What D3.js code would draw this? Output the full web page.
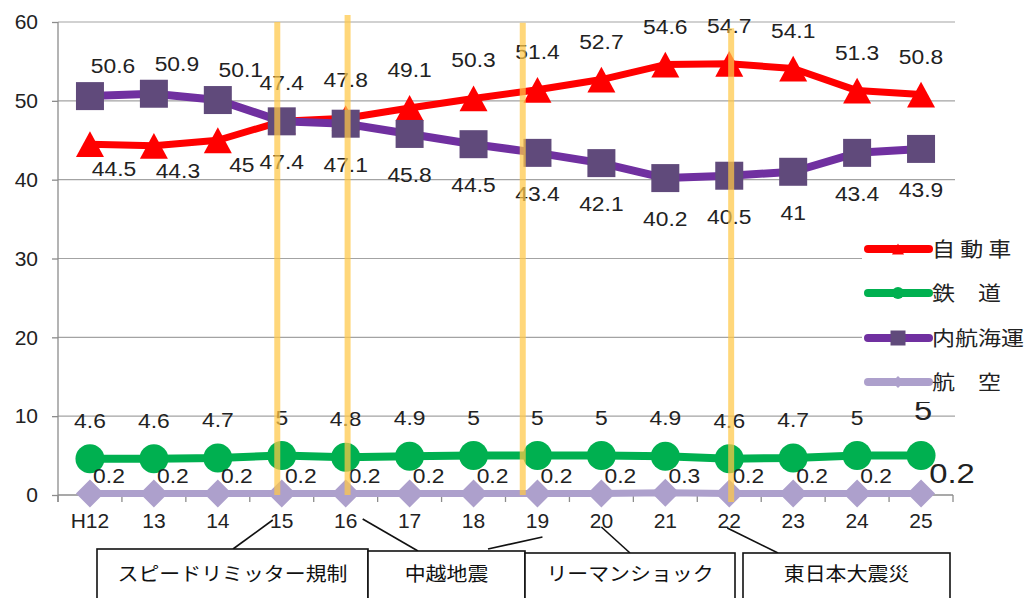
<!DOCTYPE html>
<html>
<head>
<meta charset="utf-8">
<script src="https://cdn.jsdelivr.net/npm/d3@7"></script>
<style>
  html, body { margin: 0; padding: 0; background: #fff; }
  svg { display: block; font-family: "Liberation Sans", Arial, "Noto Sans CJK JP", sans-serif; }
</style>
</head>
<body>
<svg id="chart" width="1027" height="598"></svg>
<script>
// ---- data: modal share of domestic freight (%), fiscal years H12–H25 ----
const categories = ["H12","13","14","15","16","17","18","19","20","21","22","23","24","25"];
const carShare      = [44.5,44.3,45,47.4,47.8,49.1,50.3,51.4,52.7,54.6,54.7,54.1,51.3,50.8];
const railShare     = [4.6,4.6,4.7,5,4.8,4.9,5,5,5,4.9,4.6,4.7,5,5];
const shippingShare = [50.6,50.9,50.1,47.4,47.1,45.8,44.5,43.4,42.1,40.2,40.5,41,43.4,43.9];
const airShare      = [0.2,0.2,0.2,0.2,0.2,0.2,0.2,0.2,0.2,0.3,0.2,0.2,0.2,0.2];
const seriesNames   = ["自 動 車","鉄　道","内航海運","航　空"];
const yTicks        = [0,10,20,30,40,50,60];

// events marked on the chart
const eventNames     = ["スピードリミッター規制","中越地震","リーマンショック","東日本大震災"];
const eventLinePos   = [2.93, 4.03, 6.77, 10.03];   // category-index units
const eventLineTop   = [60, 60.9, 59.9, 59.2];      // value units
const eventLineBottom= [0, 0, 0, -0.9];

// ---- layout ----
const svg = d3.select("#chart");
const plotL = 58, plotR = 953;
const x = d3.scaleBand().domain(categories).range([plotL, plotR]).padding(0);
const bw = x.bandwidth();
const cx = c => x(c) + bw / 2;
const xi = i => plotL + (i + 0.5) * bw;
const y = d3.scaleLinear().domain([0, 60]).range([495, 22]);

// gridlines
svg.append("g").selectAll("line").data(yTicks.filter(t => t > 0)).join("line")
  .attr("x1", plotL).attr("x2", plotR + 2)
  .attr("y1", d => y(d)).attr("y2", d => y(d))
  .attr("stroke", "#a3a3a3").attr("stroke-width", 1.2);

// y axis
const yAxis = svg.append("g").attr("transform", `translate(${plotL},0)`)
  .call(d3.axisLeft(y).tickValues(yTicks).tickSize(6).tickPadding(14).tickSizeOuter(0));
yAxis.select(".domain").attr("stroke", "#8c8c8c").attr("stroke-width", 1.3)
  .attr("d", `M0,${y(60)}V${y(0) + 7}`);
yAxis.selectAll(".tick line").attr("stroke", "#8c8c8c").attr("stroke-width", 1.3);
yAxis.selectAll("text").attr("font-size", 21).attr("fill", "#222")
  .attr("font-family", "Liberation Sans, Arial, sans-serif");

// x axis: labels at band centres, ticks at band boundaries
const xAxis = svg.append("g").attr("transform", `translate(0,${y(0)})`)
  .call(d3.axisBottom(x).tickSize(0).tickPadding(18));
xAxis.select(".domain").attr("stroke", "#8c8c8c").attr("stroke-width", 1.3)
  .attr("d", `M${plotL},0H${plotR}`);
xAxis.selectAll("text").attr("font-size", 21).attr("fill", "#222")
  .attr("font-family", "Liberation Sans, Arial, sans-serif");
svg.append("g").selectAll("line").data(d3.range(categories.length + 1)).join("line")
  .attr("x1", i => plotL + i * bw).attr("x2", i => plotL + i * bw)
  .attr("y1", y(0)).attr("y2", y(0) + 7)
  .attr("stroke", "#8c8c8c").attr("stroke-width", 1.3);

// ---- series ----
const markerPath = {
  triangle: s => `M0,${-s*0.46}L${s/2},${s*0.46}L${-s/2},${s*0.46}Z`,
  circle:   s => d3.path ? `M${s/2},0A${s/2},${s/2} 0 1,1 ${-s/2},0A${s/2},${s/2} 0 1,1 ${s/2},0Z` : "",
  square:   s => `M${-s/2},${-s/2}h${s}v${s}h${-s}Z`,
  diamond:  s => `M0,${-s/2}L${s/2},0L0,${s/2}L${-s/2},0Z`
};

const series = [
  { name: seriesNames[0], values: carShare,      line: "#ff0000", marker: "#ff0000", shape: "triangle", width: 7, size: 28 },
  { name: seriesNames[1], values: railShare,     line: "#00b050", marker: "#00b050", shape: "circle",   width: 8, size: 29 },
  { name: seriesNames[2], values: shippingShare, line: "#7030a0", marker: "#604a7b", shape: "square",   width: 8, size: 28 },
  { name: seriesNames[3], values: airShare,      line: "#ada0cc", marker: "#ada0cc", shape: "diamond",  width: 7, size: 28 }
];

const lineGen = d3.line().x((d, i) => xi(i)).y(d => y(d));

series.forEach(s => {
  const g = svg.append("g");
  g.append("path").datum(s.values)
    .attr("d", lineGen).attr("fill", "none")
    .attr("stroke", s.line).attr("stroke-width", s.width)
    .attr("stroke-linejoin", "round").attr("stroke-linecap", "round");
  g.selectAll("path.m").data(s.values).join("path").attr("class", "m")
    .attr("transform", (d, i) => `translate(${xi(i)},${y(d)})`)
    .attr("d", markerPath[s.shape](s.size))
    .attr("fill", s.marker);
});

// ---- data labels ----
const last = categories.length - 1;
function placement(key, i) {
  if (key === "car") {
    if (i < 3) return { dx: 24, dy: 25 };
    if (i === 3) return { dx: 0, dy: 41 };
    return { dx: 0, dy: -38 };
  }
  if (key === "ship") {
    if (i < 3) return { dx: 23, dy: -30 };
    if (i === 3) return { dx: 0, dy: -38 };
    return { dx: 0, dy: 41 };
  }
  if (key === "rail") {
    if (i === last) return { dx: 2, dy: -46, big: true };
    return { dx: 0, dy: -38 };
  }
  if (i === last) return { dx: 31, dy: -21, big: true };
  return { dx: 19, dy: -17 };
}
const labelSets = [["car", carShare], ["ship", shippingShare], ["rail", railShare], ["air", airShare]];
const labels = svg.append("g");
labelSets.forEach(([key, vals]) => {
  vals.forEach((v, i) => {
    const p = placement(key, i);
    const fs = p.big ? 28 : 19.5;
    labels.append("text")
      .attr("transform", `translate(${xi(i) + p.dx},${y(v) + p.dy + 0.36 * fs}) scale(1.17,1)`)
      .attr("text-anchor", "middle")
      .attr("font-size", fs).attr("fill", "#222")
      .text(v);
  });
});

// ---- event marker lines ----
svg.append("g").selectAll("line").data(eventLinePos).join("line")
  .attr("x1", d => xi(d)).attr("x2", d => xi(d))
  .attr("y1", (d, i) => y(eventLineTop[i])).attr("y2", (d, i) => y(eventLineBottom[i]))
  .attr("stroke", "rgb(255,200,70)").attr("stroke-opacity", 0.72).attr("stroke-width", 6);

// ---- legend ----
const legend = svg.append("g");
legend.append("rect").attr("x", 862).attr("y", 234).attr("width", 165).attr("height", 168).attr("fill", "#fff");
const legendY = [249, 293, 338, 382];
const legendMarker = [12, 12, 15, 12];
series.forEach((s, k) => {
  const ly = legendY[k];
  legend.append("line").attr("x1", 868).attr("x2", 929).attr("y1", ly).attr("y2", ly)
    .attr("stroke", s.line).attr("stroke-width", 8).attr("stroke-linecap", "round");
  legend.append("path").attr("transform", `translate(898,${ly})`)
    .attr("d", markerPath[s.shape](legendMarker[k])).attr("fill", s.marker);
  legend.append("text")
    .attr("transform", `translate(932,${ly + 0.38 * 20}) scale(1.15,1)`)
    .attr("font-family", "Noto Sans CJK JP, sans-serif")
    .attr("font-size", 20).attr("fill", "#222")
    .text(s.name);
});

// ---- event annotation boxes ----
const boxes = [
  { x0: 97,  x1: 368, top: 549, target: { i: 3,  dx: -9, dy: 25 }, from: 233 },
  { x0: 368, x1: 525, top: 551, target: { i: 4,  dx: 17, dy: 24 }, from: 418 },
  { x0: 525, x1: 735, top: 553, target: { i: 8,  dx: 0,  dy: 32 }, from: 630 },
  { x0: 743, x1: 950, top: 553, target: { i: 10, dx: -2, dy: 33 }, from: 778 }
];
const ann = svg.append("g");
// leaders first so boxes sit on top of their ends
boxes.forEach(b => {
  ann.append("line").attr("x1", b.from).attr("y1", b.top)
    .attr("x2", xi(b.target.i) + b.target.dx).attr("y2", y(0) + b.target.dy)
    .attr("stroke", "#111").attr("stroke-width", 1.6);
});
// second leader from the 中越地震 box toward H19
ann.append("line").attr("x1", 488).attr("y1", 549)
  .attr("x2", xi(7) + 5).attr("y2", y(0) + 42)
  .attr("stroke", "#111").attr("stroke-width", 1.6);

boxes.forEach((b, k) => {
  ann.append("rect").attr("x", b.x0).attr("y", b.top)
    .attr("width", b.x1 - b.x0).attr("height", 598 - b.top + 4)
    .attr("fill", "#fff").attr("stroke", "#111").attr("stroke-width", 1.6);
  ann.append("text")
    .attr("transform", `translate(${(b.x0 + b.x1) / 2},${574 + 0.38 * 19}) scale(1.1,1)`)
    .attr("text-anchor", "middle")
    .attr("font-family", "Noto Sans CJK JP, sans-serif")
    .attr("font-size", 19).attr("fill", "#111")
    .text(eventNames[k]);
});
</script>
</body>
</html>
